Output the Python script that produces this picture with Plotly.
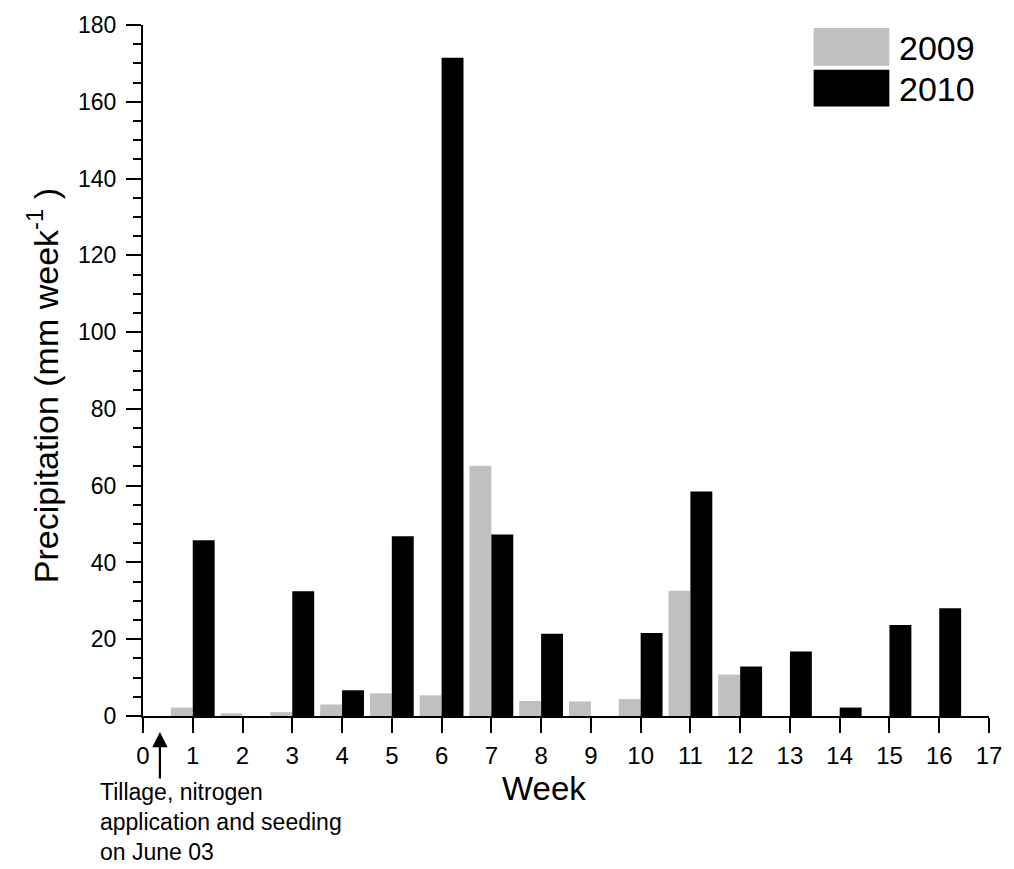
import plotly.graph_objects as go

weeks = list(range(1, 17))
precip_2009 = [2.2, 0.7, 1.0, 3.0, 5.9, 5.4, 65.2, 3.9, 3.8, 4.4, 32.6, 10.8, 0, 0, 0, 0]
precip_2010 = [45.8, 0, 32.5, 6.7, 46.8, 171.5, 47.3, 21.4, 0, 21.6, 58.5, 12.9, 16.8, 2.2, 23.7, 28.1]
series_names = ["2009", "2010"]
series_colors = ["#C0C0C0", "#000000"]
x_ticks = list(range(0, 18))
y_ticks = list(range(0, 181, 20))

FONT = "Liberation Sans, Arial, sans-serif"

fig = go.Figure()
for name, vals, col in zip(series_names, [precip_2009, precip_2010], series_colors):
    fig.add_trace(go.Bar(
        x=weeks, y=vals, name=name,
        marker=dict(color=col, line=dict(width=0)),
        showlegend=False,
    ))

# plot area in pixels
W, H = 1014, 869
L, R, T, B = 143, 22, 21, 153
pw, ph = W - L - R, H - T - B

def px(xp):
    return (xp - L) / pw

def py(yp):
    return (H - B - yp) / ph

shapes = []
annotations = []
# custom legend
leg = [("2009", "#C0C0C0", 24, 62), ("2010", "#000000", 66, 103)]
for name, col, y0, y1 in leg:
    shapes.append(dict(type="rect", xref="paper", yref="paper",
                       x0=px(816), x1=px(892), y0=py(y1), y1=py(y0),
                       fillcolor=col, line=dict(width=0)))
    annotations.append(dict(text=name, xref="paper", yref="paper",
                            x=px(900), y=py((y0 + y1) / 2 + 1), xanchor="left", yanchor="middle",
                            showarrow=False, font=dict(family=FONT, size=34, color="black")))

# x-axis title
annotations.append(dict(text="Week", xref="paper", yref="paper", x=px(545), y=py(789),
                        xanchor="center", yanchor="middle", showarrow=False,
                        font=dict(family=FONT, size=33, color="black")))

# y-axis title
annotations.append(dict(text="Precipitation (mm week<sup>-1</sup> )", xref="paper", yref="paper",
                        x=px(43), y=py(384), textangle=-90,
                        xanchor="center", yanchor="middle", showarrow=False,
                        font=dict(family=FONT, size=34, color="black")))

# arrow
annotations.append(dict(text="", xref="x", yref="paper", x=0.34, y=py(732),
                        ax=0, ay=48, axref="pixel", ayref="pixel",
                        showarrow=True, arrowhead=2, arrowsize=1.4, arrowwidth=2.2,
                        arrowcolor="black"))
# note text
annotations.append(dict(text="Tillage, nitrogen<br>application and seeding<br>on June 03",
                        xref="paper", yref="paper", x=px(98), y=py(777),
                        xanchor="left", yanchor="top", align="left", showarrow=False,
                        font=dict(family=FONT, size=23, color="black")))

fig.update_layout(
    width=W, height=H,
    margin=dict(l=L, r=R, t=T, b=B, pad=0),
    paper_bgcolor="white", plot_bgcolor="white",
    barmode="group", bargap=0.12, bargroupgap=0,
    font=dict(family=FONT, size=22, color="black"),
    shapes=shapes, annotations=annotations,
    xaxis=dict(range=[0, 17], tickmode="array", tickvals=x_ticks,
               ticktext=[str(v) for v in x_ticks],
               ticks="outside", ticklen=15, tickwidth=2, tickcolor="black",
               showline=True, linewidth=2, linecolor="black",
               showgrid=False, zeroline=False, ticklabelstandoff=2,
               tickfont=dict(family=FONT, size=24, color="black")),
    yaxis=dict(range=[0, 180], tickmode="array", tickvals=y_ticks,
               ticks="outside", ticklen=15, tickwidth=2, tickcolor="black",
               showline=True, linewidth=2, linecolor="black",
               showgrid=False, zeroline=False, ticklabelstandoff=5,
               minor=dict(dtick=5, ticks="outside", ticklen=8, tickwidth=2, tickcolor="black", showgrid=False),
               tickfont=dict(family=FONT, size=23, color="black")),
)

fig.write_html("out.html")
